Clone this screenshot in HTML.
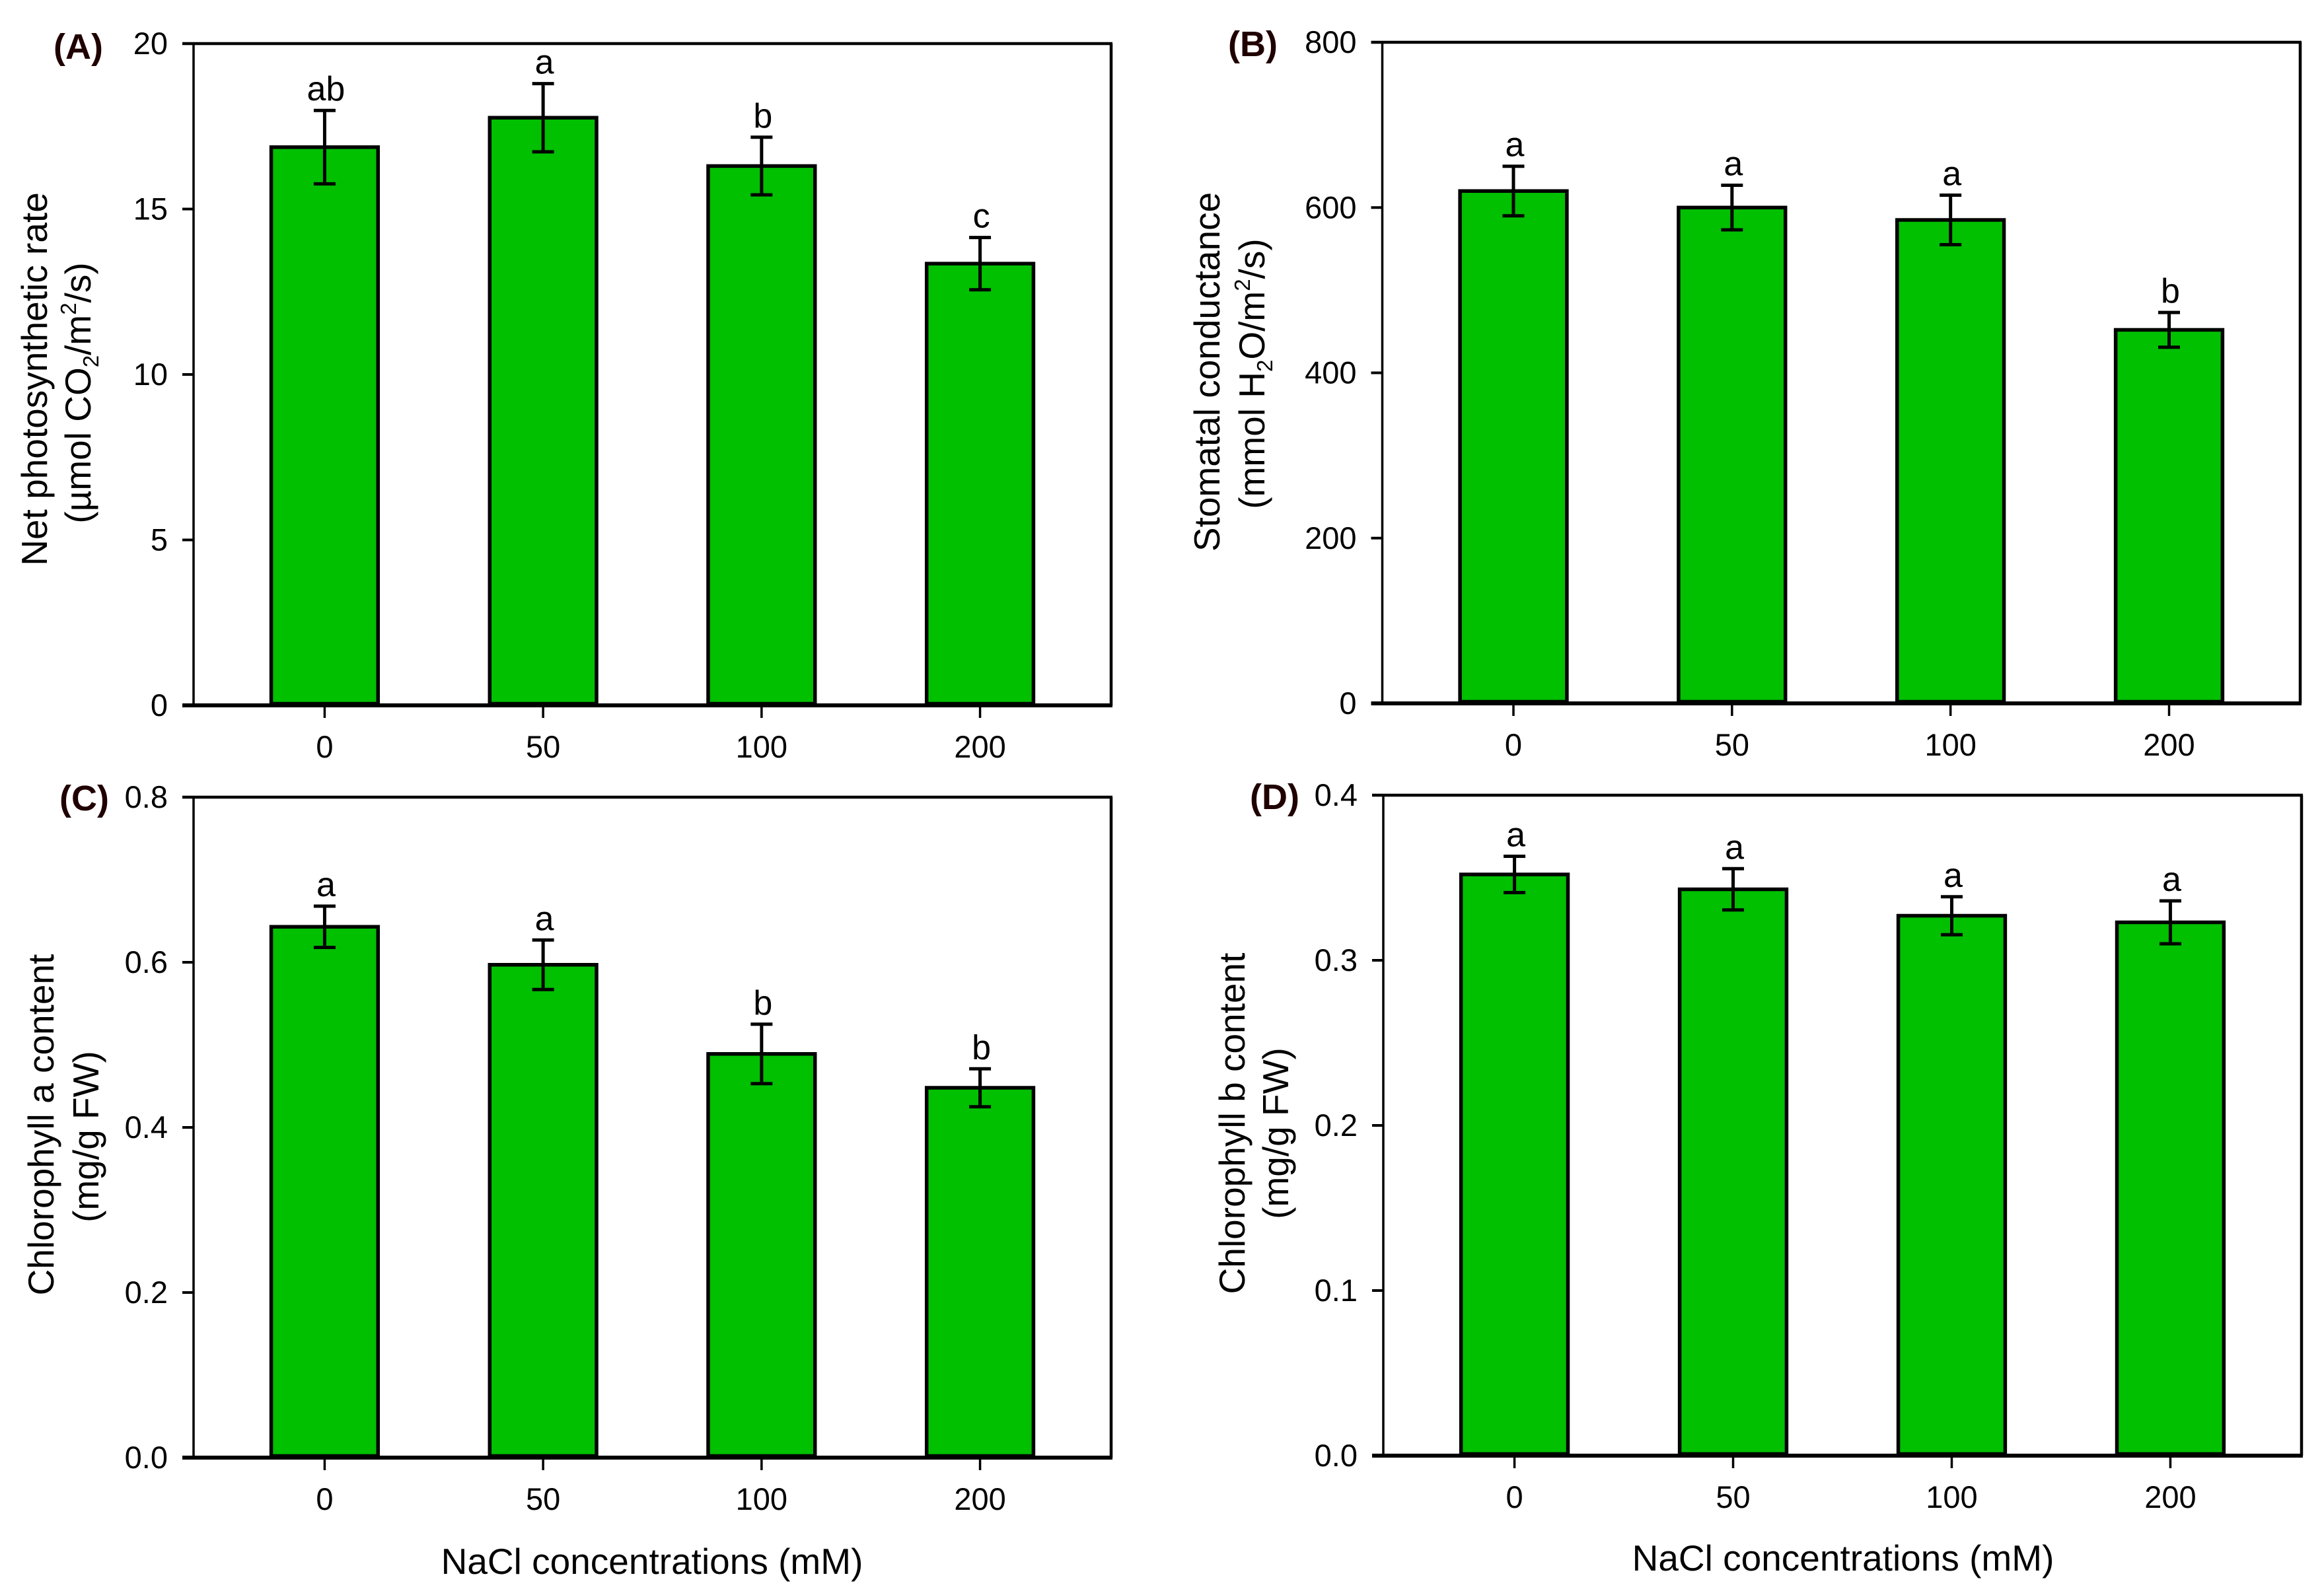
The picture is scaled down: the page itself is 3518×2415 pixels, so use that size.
<!DOCTYPE html>
<html lang="en">
<head>
<meta charset="utf-8">
<title>NaCl effects on photosynthesis and chlorophyll</title>
<style>
html,body{margin:0;padding:0;background:#fff;}
svg{display:block;}
text{font-family:"Liberation Sans",Arial,sans-serif;fill:#000;}
.title{font-size:55px;}
.sub{font-size:33px;}
.panel{font-size:54px;font-weight:bold;fill:#200000;}
</style>
</head>
<body>
<svg id="chart" xmlns="http://www.w3.org/2000/svg" width="3518" height="2415" viewBox="0 0 3518 2415">
  <rect x="0" y="0" width="3518" height="2415" fill="#fff"/>

  <text class="panel" x="81" y="89">(A)</text>
  <text class="panel" x="1859" y="85">(B)</text>
  <text class="panel" x="90" y="1227">(C)</text>
  <text class="panel" x="1892" y="1225">(D)</text>

  <text class="title" text-anchor="middle" transform="translate(71 574) rotate(-90)">Net photosynthetic rate</text>
  <text class="title" text-anchor="middle" transform="translate(137 595) rotate(-90)">(µmol CO<tspan class="sub" dy="12">2</tspan><tspan dy="-12">/m</tspan><tspan class="sub" dy="-22">2</tspan><tspan dy="22">/s)</tspan></text>

  <text class="title" text-anchor="middle" transform="translate(1846 563) rotate(-90)">Stomatal conductance</text>
  <text class="title" text-anchor="middle" transform="translate(1914 566) rotate(-90)">(mmol H<tspan class="sub" dy="12">2</tspan><tspan dy="-12">O/m</tspan><tspan class="sub" dy="-22">2</tspan><tspan dy="22">/s)</tspan></text>

  <text class="title" text-anchor="middle" transform="translate(81 1703) rotate(-90)">Chlorophyll a content</text>
  <text class="title" text-anchor="middle" transform="translate(149 1721) rotate(-90)">(mg/g FW)</text>

  <text class="title" text-anchor="middle" transform="translate(1884 1701) rotate(-90)">Chlorophyll b content</text>
  <text class="title" text-anchor="middle" transform="translate(1950 1716) rotate(-90)">(mg/g FW)</text>

  <text class="title" text-anchor="middle" x="987" y="2383">NaCl concentrations (mM)</text>
  <text class="title" text-anchor="middle" x="2790" y="2378">NaCl concentrations (mM)</text>
</svg>

<script>
// Chart data
const categories = ["0", "50", "100", "200"];

const photosynthesisValues = [16.87, 17.76, 16.3, 13.35];
const photosynthesisErrors = [1.11, 1.03, 0.87, 0.79];
const photosynthesisLetters = ["ab", "a", "b", "c"];
const photosynthesisTicks = ["0", "5", "10", "15", "20"];

const conductanceValues = [620, 600, 585, 452];
const conductanceErrors = [30, 27, 30, 21];
const conductanceLetters = ["a", "a", "a", "b"];
const conductanceTicks = ["0", "200", "400", "600", "800"];

const chlorophyllAValues = [0.643, 0.597, 0.489, 0.448];
const chlorophyllAErrors = [0.025, 0.03, 0.036, 0.023];
const chlorophyllALetters = ["a", "a", "b", "b"];
const chlorophyllATicks = ["0.0", "0.2", "0.4", "0.6", "0.8"];

const chlorophyllBValues = [0.352, 0.343, 0.327, 0.323];
const chlorophyllBErrors = [0.011, 0.0125, 0.0115, 0.013];
const chlorophyllBLetters = ["a", "a", "a", "a"];
const chlorophyllBTicks = ["0.0", "0.1", "0.2", "0.3", "0.4"];

const svg = document.getElementById("chart");
const NS = "http://www.w3.org/2000/svg";

function make(tag, attrs, parent) {
  const el = document.createElementNS(NS, tag);
  for (const k in attrs) el.setAttribute(k, attrs[k]);
  parent.appendChild(el);
  return el;
}

function drawPanel(id, box, values, errors, letters, ticks) {
  const yMax = parseFloat(ticks[ticks.length - 1]);
  const yScale = v => box.bottom - (v / yMax) * (box.bottom - box.top);
  const band = (box.right - box.left) / (categories.length + 0.2);
  const xScale = i => box.left + (i + 0.6) * band;
  const barWidth = band * 0.489;

  const group = make("g", {}, svg);
  
  

  categories.forEach((cat, i) => {
    const cx = xScale(i);
    const bar = make("rect", {
      x: cx - barWidth / 2, y: yScale(values[i]),
      width: barWidth, height: box.bottom - 2.5 - yScale(values[i]),
      fill: "#00c000", stroke: "#000", "stroke-width": 5.5
    }, group);
    
    

    const hi = yScale(values[i] + errors[i]);
    const lo = yScale(values[i] - errors[i]);
    const stem = make("line", { x1: cx, x2: cx, y1: hi, y2: lo, stroke: "#000", "stroke-width": 5 }, group);
    
    
    const capTop = make("line", { x1: cx - 16.5, x2: cx + 16.5, y1: hi, y2: hi, stroke: "#000", "stroke-width": 5 }, group);
    
    
    const capBottom = make("line", { x1: cx - 16.5, x2: cx + 16.5, y1: lo, y2: lo, stroke: "#000", "stroke-width": 5 }, group);
    
    

    const letter = make("text", { x: cx + 2, y: hi - 15, "text-anchor": "middle", "font-size": 52 }, group);
    letter.textContent = letters[i];
    
    

    const xTick = make("line", { x1: cx, x2: cx, y1: box.bottom, y2: box.bottom + 19, stroke: "#000", "stroke-width": 3.5 }, group);
    
    

    const xLabel = make("text", { x: cx, y: box.bottom + 79, "text-anchor": "middle", "font-size": 47 }, group);
    xLabel.textContent = cat;
    
    
  });

  ticks.forEach(t => {
    const y = yScale(parseFloat(t));
    const tick = make("line", { x1: box.left - 17, x2: box.left, y1: y, y2: y, stroke: "#000", "stroke-width": 4 }, group);
    
    

    const label = make("text", { x: box.left - 39, y: y + 16, "text-anchor": "end", "font-size": 47 }, group);
    label.textContent = t;
    
    
  });

  const left = make("line", { x1: box.left, x2: box.left, y1: box.top, y2: box.bottom, stroke: "#000", "stroke-width": 3.5 }, group);
  
  
  const right = make("line", { x1: box.right, x2: box.right, y1: box.top, y2: box.bottom, stroke: "#000", "stroke-width": 4.5 }, group);
  
  
  const top = make("line", { x1: box.left - 17, x2: box.right + 2, y1: box.top, y2: box.top, stroke: "#000", "stroke-width": 4.5 }, group);
  
  
  const bottom = make("line", { x1: box.left - 17, x2: box.right + 2, y1: box.bottom, y2: box.bottom, stroke: "#000", "stroke-width": 6 }, group);
  
  
}

drawPanel("a", { left: 293, right: 1682, top: 66, bottom: 1068 }, photosynthesisValues, photosynthesisErrors, photosynthesisLetters, photosynthesisTicks);
drawPanel("b", { left: 2092.5, right: 3482, top: 64, bottom: 1065 }, conductanceValues, conductanceErrors, conductanceLetters, conductanceTicks);
drawPanel("c", { left: 293, right: 1682, top: 1207, bottom: 2207 }, chlorophyllAValues, chlorophyllAErrors, chlorophyllALetters, chlorophyllATicks);
drawPanel("d", { left: 2094, right: 3484, top: 1204, bottom: 2204 }, chlorophyllBValues, chlorophyllBErrors, chlorophyllBLetters, chlorophyllBTicks);
</script>
</body>
</html>
